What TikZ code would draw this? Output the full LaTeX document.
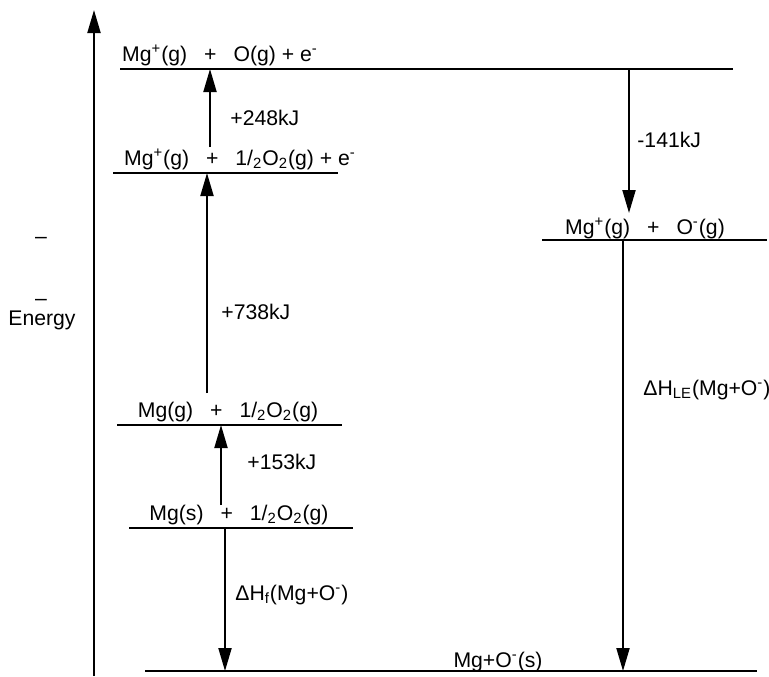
\documentclass[tikz,border=0pt]{standalone}
\usepackage{fontspec}
\setmainfont{Liberation Sans}
\usetikzlibrary{arrows.meta}

\newcommand{\lvlgap}{\hspace{0.8em}}

\begin{document}
\begin{tikzpicture}[
  x=0.5pt, y=-0.5pt,
  font=\fontsize{10.6}{12.5}\selectfont,
  level/.style={
    draw=black,
    line width=1pt
  },
  lvltext/.style={
    anchor=base,
    inner sep=0pt
  },
  steptext/.style={
    anchor=base west,
    inner sep=0pt
  },
  arrow/.style={
    draw=black,
    line width=1pt,
    -{Triangle[length=11.5pt, width=6.5pt]}
  }
]

\useasboundingbox (0,0) rectangle (769,676);

% Energy axis
\coordinate (axbot) at (94,676);
\coordinate (axtop) at (94,10);
\draw[arrow] (axbot) -- (axtop);

\node[lvltext] (dash1) at (41,243) {–};
\node[lvltext] (dash2) at (41,305) {–};
\node[lvltext] (energy) at (42,325) {Energy};

% Levels, left column
\coordinate (l1a) at (120,69);
\coordinate (l1b) at (733,69);
\draw[level] (l1a) -- (l1b);
\node[lvltext] (l1text) at (220,61)
{Mg\textsuperscript{+}(g)\lvlgap+\lvlgap O(g) + e\textsuperscript{-}};

\coordinate (l2a) at (113,173);
\coordinate (l2b) at (338,173);
\draw[level] (l2a) -- (l2b);
\node[lvltext] (l2text) at (240,165)
{Mg\textsuperscript{+}(g)\lvlgap+\lvlgap 1/\textsubscript{2}O\textsubscript{2}(g) + e\textsuperscript{-}};

\coordinate (l3a) at (117,425);
\coordinate (l3b) at (342,425);
\draw[level] (l3a) -- (l3b);
\node[lvltext] (l3text) at (228,417)
{Mg(g)\lvlgap+\lvlgap 1/\textsubscript{2}O\textsubscript{2}(g)};

\coordinate (l4a) at (129,528);
\coordinate (l4b) at (353,528);
\draw[level] (l4a) -- (l4b);
\node[lvltext] (l4text) at (239,520)
{Mg(s)\lvlgap+\lvlgap 1/\textsubscript{2}O\textsubscript{2}(g)};

% Levels, right column and bottom
\coordinate (l5a) at (542,240);
\coordinate (l5b) at (767,240);
\draw[level] (l5a) -- (l5b);
\node[lvltext] (l5text) at (645,234)
{Mg\textsuperscript{+}(g)\lvlgap+\lvlgap O\textsuperscript{-}(g)};

\coordinate (l6a) at (145,671);
\coordinate (l6b) at (757,671);
\draw[level, line width=1.3pt] (l6a) -- (l6b);
\node[lvltext] (l6text) at (498,667) {Mg+O\textsuperscript{-}(s)};

% Steps up
\coordinate (s248) at (210,147);
\coordinate (e248) at (210,69);
\draw[arrow] (s248) -- (e248);
\node[steptext] (t248) at (230,125) {+248kJ};

\coordinate (s738) at (207,393);
\coordinate (e738) at (207,173);
\draw[arrow] (s738) -- (e738);
\node[steptext] (t738) at (221,319) {+738kJ};

\coordinate (s153) at (221,505);
\coordinate (e153) at (221,425);
\draw[arrow] (s153) -- (e153);
\node[steptext] (t153) at (247,469) {+153kJ};

% Steps down
\coordinate (shf) at (225,528);
\coordinate (ehf) at (225,671);
\draw[arrow] (shf) -- (ehf);
\node[steptext] (thf) at (235,600) {ΔH\textsubscript{f}(Mg+O\textsuperscript{-})};

\coordinate (s141) at (629,69);
\coordinate (e141) at (629,213);
\draw[arrow] (s141) -- (e141);
\node[steptext] (t141) at (637,147) {-141kJ};

\coordinate (sle) at (623,240);
\coordinate (ele) at (623,671);
\draw[arrow] (sle) -- (ele);
\node[steptext] (tle) at (643,395) {ΔH\textsubscript{LE}(Mg+O\textsuperscript{-})};

\end{tikzpicture}
\end{document}
